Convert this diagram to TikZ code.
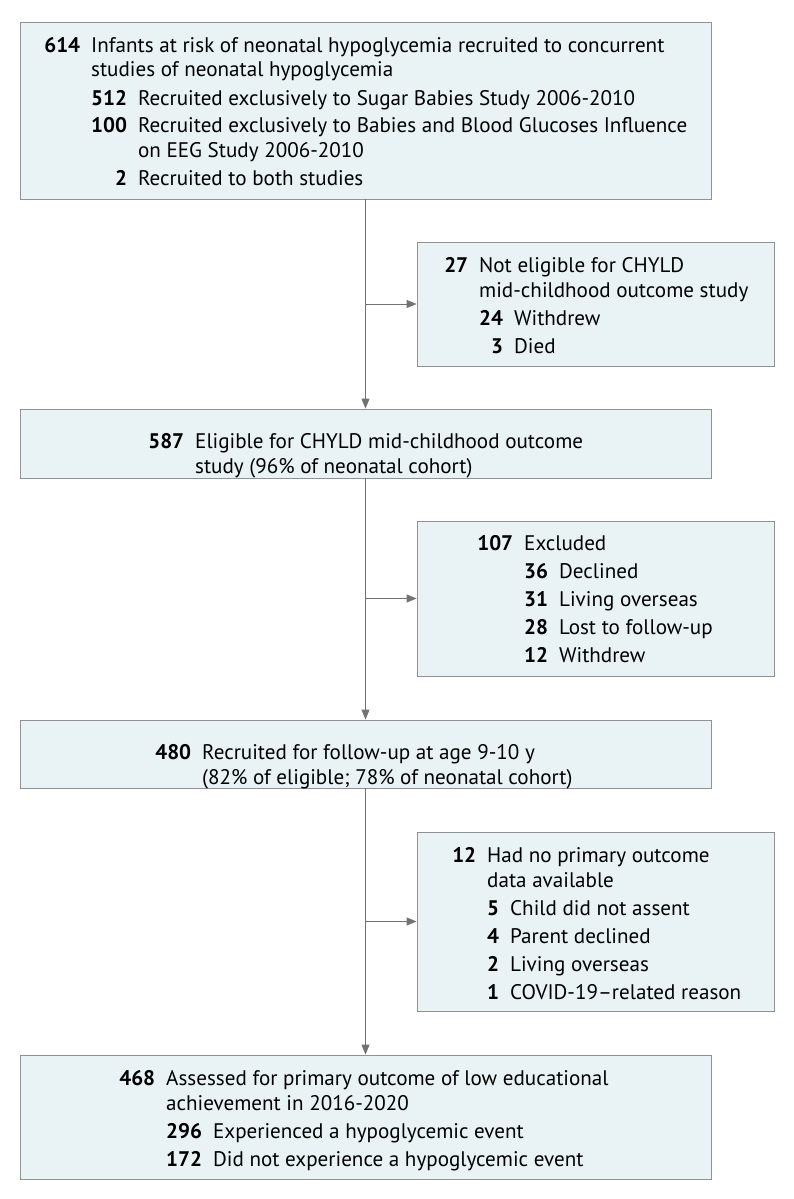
\documentclass[tikz,border=0pt]{standalone}
\usepackage{fontspec}
\setmainfont{PT Sans}
\usetikzlibrary{arrows.meta}
\newcommand{\flowcount}[1]{\llap{\textbf{#1}\hspace{11pt}}}
\newenvironment{flowsub}{\begin{tabular}[t]{@{}r@{\hspace{11pt}}l@{}}}{\end{tabular}}

\begin{document}
\begin{tikzpicture}[x=1pt,y=-1pt,
  flowbox/.style={draw=flowBorder,fill=flowFill,line width=0.9pt,inner sep=0pt},
  flowtext/.style={anchor=base west,inner sep=0pt,font=\fontsize{21.1}{24.5}\selectfont},
  flowarrow/.style={draw=flowLine,line width=0.9pt,-{Triangle[length=10pt,width=8pt]}}]
\definecolor{flowFill}{HTML}{E9F3F5}
\definecolor{flowBorder}{HTML}{919191}
\definecolor{flowLine}{HTML}{727272}
\useasboundingbox (0,0) rectangle (794,1199);

% main column
\node[flowbox,minimum width=691pt,minimum height=177pt] (recruited) at (365.5,110.5) {};
\node[flowbox,minimum width=691pt,minimum height=69pt] (eligible) at (365.5,443.5) {};
\node[flowbox,minimum width=691pt,minimum height=68pt] (followup) at (365.5,754) {};
\node[flowbox,minimum width=691pt,minimum height=124pt] (assessed) at (365.5,1117) {};
% side boxes
\node[flowbox,minimum width=357pt,minimum height=124pt] (noteligible) at (595.5,304) {};
\node[flowbox,minimum width=357pt,minimum height=155pt] (excluded) at (595.5,598.5) {};
\node[flowbox,minimum width=357pt,minimum height=179pt] (nodata) at (595.5,921.5) {};

\foreach \from/\to/\side in {recruited/eligible/noteligible,eligible/followup/excluded,followup/assessed/nodata} {
  \draw[flowarrow] (\from.south) -- (\to.north);
  \draw[flowarrow] (\from.south |- \side.west) -- (\side.west);
}

\node[flowtext] (recruitedtext) at (91,52.5) {\begin{tabular}[t]{@{}l@{}}
\flowcount{614}Infants at risk of neonatal hypoglycemia recruited to concurrent\\
studies of neonatal hypoglycemia\\[3.5pt]
\begin{flowsub}
\textbf{512} & Recruited exclusively to Sugar Babies Study 2006-2010\\[3.5pt]
\textbf{100} & Recruited exclusively to Babies and Blood Glucoses Influence\\
 & on EEG Study 2006-2010\\[3.5pt]
\textbf{2} & Recruited to both studies
\end{flowsub}
\end{tabular}};

\node[flowtext] (noteligibletext) at (479,272.5) {\begin{tabular}[t]{@{}l@{}}
\flowcount{27}Not eligible for CHYLD\\
mid-childhood outcome study\\[3.5pt]
\begin{flowsub}
\textbf{24} & Withdrew\\[3.5pt]
\textbf{3} & Died
\end{flowsub}
\end{tabular}};

\node[flowtext] (eligibletext) at (195,448.5) {\begin{tabular}[t]{@{}l@{}}
\flowcount{587}Eligible for CHYLD mid-childhood outcome\\
study (96\% of neonatal cohort)
\end{tabular}};

\node[flowtext] (excludedtext) at (524,550.5) {\begin{tabular}[t]{@{}l@{}}
\flowcount{107}Excluded\\[3.5pt]
\begin{flowsub}
\textbf{36} & Declined\\[3.5pt]
\textbf{31} & Living overseas\\[3.5pt]
\textbf{28} & Lost to follow-up\\[3.5pt]
\textbf{12} & Withdrew
\end{flowsub}
\end{tabular}};

\node[flowtext] (followuptext) at (202,759.5) {\begin{tabular}[t]{@{}l@{}}
\flowcount{480}Recruited for follow-up at age 9-10 y\\
(82\% of eligible; 78\% of neonatal cohort)
\end{tabular}};

\node[flowtext] (nodatatext) at (487,862.5) {\begin{tabular}[t]{@{}l@{}}
\flowcount{12}Had no primary outcome\\
data available\\[3.5pt]
\begin{flowsub}
\textbf{5} & Child did not assent\\[3.5pt]
\textbf{4} & Parent declined\\[3.5pt]
\textbf{2} & Living overseas\\[3.5pt]
\textbf{1} & COVID-19\textendash related reason
\end{flowsub}
\end{tabular}};

\node[flowtext] (assessedtext) at (166,1085.5) {\begin{tabular}[t]{@{}l@{}}
\flowcount{468}Assessed for primary outcome of low educational\\
achievement in 2016-2020\\[3.5pt]
\begin{flowsub}
\textbf{296} & Experienced a hypoglycemic event\\[3.5pt]
\textbf{172} & Did not experience a hypoglycemic event
\end{flowsub}
\end{tabular}};
\end{tikzpicture}
\end{document}
